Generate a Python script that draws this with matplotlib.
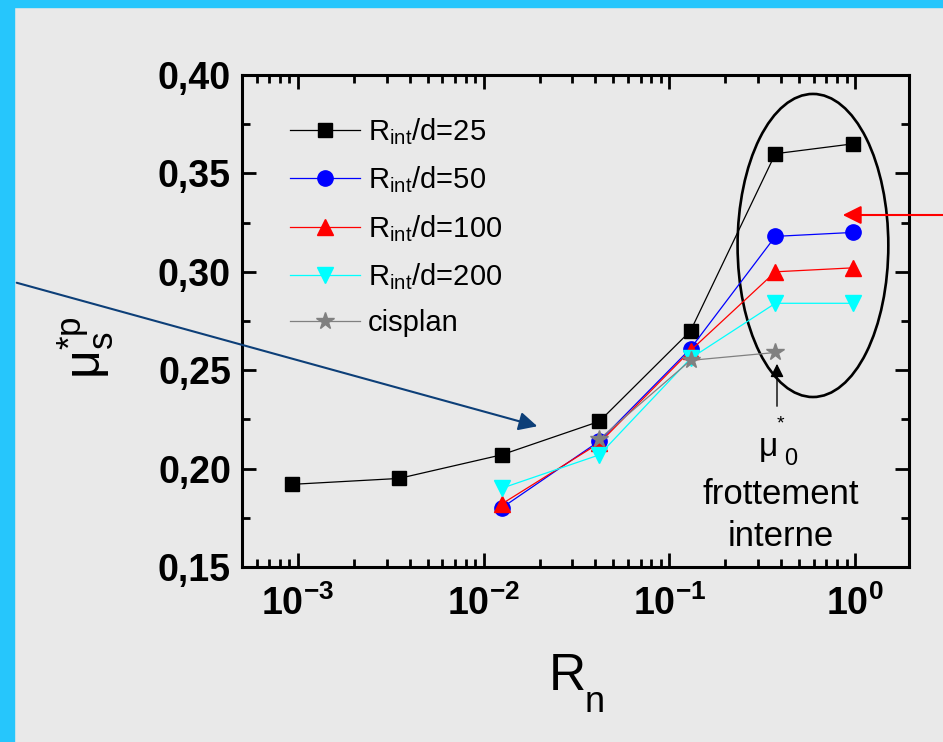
import matplotlib
matplotlib.use('Agg')
import matplotlib.pyplot as plt
from matplotlib.patches import Ellipse, Rectangle
from matplotlib.ticker import FixedLocator, LogLocator, NullFormatter

plt.rcParams['font.family'] = ['Liberation Sans', 'DejaVu Sans']
plt.rcParams['mathtext.fontset'] = 'custom'
plt.rcParams['mathtext.rm'] = 'Liberation Sans'
plt.rcParams['mathtext.it'] = 'Liberation Sans'
plt.rcParams['mathtext.bf'] = 'Liberation Sans:bold'
plt.rcParams['mathtext.default'] = 'regular'

# friction coefficient vs R_n for each R_int/d ratio
rn_25 = [9.3e-4, 3.5e-3, 0.0125, 0.042, 0.13, 0.372, 0.97]
mu_25 = [0.192, 0.195, 0.207, 0.224, 0.270, 0.360, 0.365]

rn_short = [0.0125, 0.042, 0.13, 0.372, 0.97]
mu_50 = [0.180, 0.214, 0.261, 0.318, 0.320]
mu_100 = [0.182, 0.213, 0.260, 0.300, 0.302]
mu_200 = [0.190, 0.207, 0.256, 0.284, 0.284]

rn_cisplan = [0.042, 0.13, 0.372]
mu_cisplan = [0.215, 0.255, 0.259]

labels = [r'R$_{int}$/d=25', r'R$_{int}$/d=50', r'R$_{int}$/d=100',
          r'R$_{int}$/d=200', 'cisplan']

y_ticks = [0.15, 0.20, 0.25, 0.30, 0.35, 0.40]
y_tick_labels = ['0,15', '0,20', '0,25', '0,30', '0,35', '0,40']
x_ticks = [1e-3, 1e-2, 1e-1, 1e0]
x_tick_labels = [r'$\mathbf{10^{-3}}$', r'$\mathbf{10^{-2}}$',
                 r'$\mathbf{10^{-1}}$', r'$\mathbf{10^{0}}$']

W, H = 943, 742
bg = '#e9e9e9'


def fpx(x, y):
    # pixel position from top-left -> figure fraction
    return (x / W, 1 - y / H)


fig = plt.figure(figsize=(W / 100, H / 100), dpi=100)
fig.patch.set_facecolor(bg)

# cyan frame
fig.patches.append(Rectangle((0, 0), 14 / W, 1, transform=fig.transFigure,
                             color='#26c6fc', zorder=0))
fig.patches.append(Rectangle((0, 1 - 7 / H), 1, 7 / H, transform=fig.transFigure,
                             color='#26c6fc', zorder=0))

ax = fig.add_axes([242 / W, 1 - 567 / H, 667 / W, 492 / H])
ax.set_facecolor(bg)

ax.plot(rn_25, mu_25, '-s', color='black', lw=0.9, ms=10, label=labels[0])
ax.plot(rn_short, mu_50, '-o', color='blue', lw=0.9, ms=11, label=labels[1])
ax.plot(rn_short, mu_100, '-^', color='red', lw=0.9, ms=12, label=labels[2])
ax.plot(rn_short, mu_200, '-v', color='cyan', lw=0.9, ms=12, label=labels[3])
ax.plot(rn_cisplan, mu_cisplan, '-*', color='gray', lw=0.9, ms=13, label=labels[4])

ax.set_xscale('log')
ax.set_xlim(5e-4, 1.95)
ax.set_ylim(0.15, 0.40)

ax.xaxis.set_major_locator(FixedLocator(x_ticks))
ax.set_xticklabels(x_tick_labels)
ax.xaxis.set_minor_locator(LogLocator(base=10, subs=range(2, 10)))
ax.xaxis.set_minor_formatter(NullFormatter())
ax.yaxis.set_major_locator(FixedLocator(y_ticks))
ax.set_yticklabels(y_tick_labels, fontweight='bold')
ax.yaxis.set_minor_locator(FixedLocator([0.175, 0.225, 0.275, 0.325, 0.375]))

ax.tick_params(which='both', direction='in', top=True, right=True, width=2)
ax.tick_params(which='major', length=10, pad=8)
ax.tick_params(which='minor', length=6)
ax.tick_params(axis='y', which='major', labelsize=27)
ax.tick_params(axis='x', which='major', labelsize=27, pad=13)
for sp in ax.spines.values():
    sp.set_linewidth(2.2)

# axis titles
fig.text(*fpx(567, 676), 'R', fontsize=37, ha='center', va='center')
fig.text(*fpx(595, 703), 'n', fontsize=26, ha='center', va='center')
fig.text(*fpx(86, 348), r'$μ_{s}^{*p}$', fontsize=36, rotation=90,
         ha='center', va='center')

ax.legend(loc='upper left', bbox_to_anchor=(0.055, 0.94), frameon=False,
          fontsize=21, handlelength=2.4, handletextpad=0.25, labelspacing=0.6,
          borderaxespad=0)

# circled group of points at high R_n
ax.add_patch(Ellipse((0.856, 0.6535), 0.226, 0.616, transform=ax.transAxes,
                     fill=False, ec='black', lw=1.9))

# annotation arrows
ax.annotate('', xy=fpx(540, 427), xycoords='figure fraction',
            xytext=fpx(14, 282), textcoords='figure fraction',
            arrowprops=dict(arrowstyle='-|>', color='#0d3f78', lw=1.5,
                            mutation_scale=28), annotation_clip=False)
ax.annotate('', xy=fpx(840, 215), xycoords='figure fraction',
            xytext=fpx(950, 215), textcoords='figure fraction',
            arrowprops=dict(arrowstyle='-|>', color='red', lw=1.5,
                            mutation_scale=28), annotation_clip=False)
ax.annotate('', xy=fpx(777, 361), xycoords='figure fraction',
            xytext=fpx(777, 409), textcoords='figure fraction',
            arrowprops=dict(arrowstyle='-|>', color='black', lw=1.0,
                            mutation_scale=20), annotation_clip=False)

fig.text(*fpx(768, 447), 'μ', fontsize=24, ha='center', va='center')
fig.text(*fpx(780, 424), '*', fontsize=14, ha='center', va='center')
fig.text(*fpx(791, 459), '0', fontsize=17, ha='center', va='center')
fig.text(*fpx(781, 495), 'frottement', fontsize=25, ha='center', va='center')
fig.text(*fpx(781, 537), 'interne', fontsize=25, ha='center', va='center')

fig.savefig('out.png', dpi=100, facecolor=fig.get_facecolor())
